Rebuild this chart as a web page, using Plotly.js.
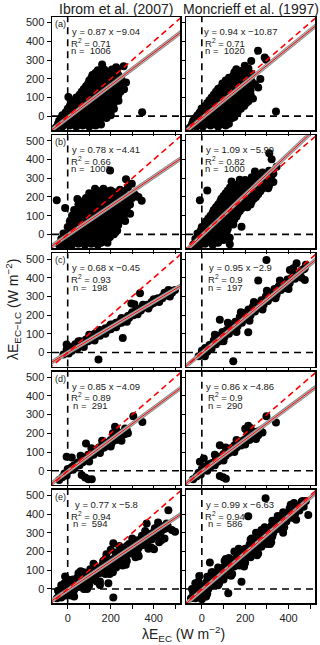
<!DOCTYPE html>
<html>
<head>
<meta charset="utf-8">
<script src="https://cdn.plot.ly/plotly-3.0.1.min.js"></script>
<style>
html,body{margin:0;padding:0;background:#fff}
#draw{width:320px;height:645px}
</style>
</head>
<body>
<div id="draw"></div>
<script>
// scatter clouds, one list of [x, y] per panel
const ibromA = [
  [-55,-60],[-25,-55],[10,-50],[40,-55],[70,-50],[100,-55],[130,-50],[155,-45],
  [-45,-40],[-10,-45],[25,-40],[55,-42],[85,-40],[120,-45],[150,-20],
  [-40,-25],[-10,-30],[20,-20],[50,-30],[80,-25],[110,-30],[140,-35],
  [-30,-10],[0,-15],[30,-10],[60,-15],[90,-10],[120,-15],[150,-10],[180,-10],
  [-25,5],[5,0],[35,10],[65,0],[95,5],[125,-5],[160,0],[200,5],
  [-10,20],[20,20],[50,15],[80,20],[110,15],[140,20],[170,15],[200,25],
  [0,40],[30,35],[60,30],[90,40],[120,30],[150,35],[180,25],[215,40],
  [10,55],[45,50],[75,45],[105,50],[135,45],[165,50],[195,40],
  [20,70],[50,65],[80,60],[110,70],[140,60],[170,65],[200,55],
  [30,85],[60,80],[95,80],[125,80],[155,75],[185,75],[215,70],
  [40,100],[70,95],[100,100],[130,90],[160,95],[190,90],[225,85],
  [55,115],[85,110],[115,115],[145,105],[175,110],[205,105],[235,110],
  [65,130],[95,125],[125,130],[155,120],[185,125],[215,120],[245,130],
  [75,145],[105,140],[135,145],[165,135],[195,140],[225,135],
  [85,160],[115,155],[145,160],[175,150],[205,155],[235,150],[262,144],
  [95,175],[125,170],[155,175],[185,165],[215,170],[240,170],
  [100,190],[130,185],[160,190],[190,180],[220,185],[250,195],
  [110,205],[140,200],[170,205],[200,195],[230,200],
  [115,220],[145,215],[175,220],[205,210],[235,220],
  [130,232],[160,235],[190,225],[220,235],
  [140,245],[170,250],[200,240],[230,250],
  [160,276],[206,249],[260,267],[225,262],
  [346,21],[236,82],[3,103],[271,180]
]
const moncA = [
  [-55,-60],[-25,-55],[5,-55],[40,-50],[75,-55],[110,-50],
  [-45,-40],[-10,-45],[25,-40],[60,-42],[95,-40],[125,-40],
  [-40,-25],[-10,-30],[20,-25],[50,-30],[85,-35],[115,-25],
  [-30,-10],[0,-15],[30,-10],[60,-15],[90,-10],[120,-15],[140,-10],
  [-20,5],[10,0],[40,10],[70,0],[100,5],[130,0],[150,-5],
  [-10,20],[20,20],[50,15],[80,20],[110,15],[140,20],[165,20],
  [-1,41],[30,35],[60,30],[90,40],[120,30],[150,35],[180,40],
  [15,55],[45,50],[75,45],[105,50],[135,45],[165,50],[195,55],
  [25,70],[55,65],[85,60],[115,70],[145,60],[175,65],[205,70],
  [35,85],[65,80],[95,80],[125,80],[155,75],[185,80],[215,80],
  [45,100],[75,95],[105,100],[135,90],[165,95],[195,90],[236,94],
  [55,115],[85,110],[115,115],[145,105],[175,110],[205,110],[225,115],
  [65,130],[95,125],[125,130],[155,120],[185,125],[215,130],
  [75,145],[105,140],[135,145],[165,135],[195,140],[225,140],
  [83,150],[115,155],[145,160],[175,150],[205,155],[260,153],
  [95,175],[125,170],[155,175],[185,165],[215,170],[245,170],
  [110,190],[140,185],[170,190],[200,180],[230,185],[270,198],
  [125,205],[155,200],[185,205],[215,195],
  [144,215],[175,220],[205,210],[230,225],
  [150,235],[180,235],[210,235],
  [159,251],[190,245],[215,255],[228,295],[198,269],
  [259,349],[290,313],[297,301],[342,25]
]
const ibromB = [
  [-40,-55],[-10,-60],[20,-55],[50,-50],[80,-55],[110,-50],[140,-55],
  [-25,-40],[5,-45],[35,-40],[65,-40],[95,-42],[125,-40],[155,-45],[185,-45],
  [-30,-25],[0,-30],[30,-20],[60,-25],[90,-30],[120,-20],[150,-25],[180,-30],
  [-15,-10],[15,-15],[45,-10],[75,-15],[105,-10],[135,-15],[165,-10],[195,-15],[215,0],
  [-20,5],[10,0],[40,10],[70,0],[100,5],[130,-5],[160,5],[197,-12],[230,20],
  [15,20],[45,20],[75,15],[105,20],[135,15],[165,20],[195,15],[220,25],
  [0,40],[30,35],[60,30],[90,40],[120,30],[150,35],[180,25],[210,40],
  [25,55],[55,50],[85,45],[115,55],[145,45],[175,50],[205,45],[235,50],
  [10,70],[40,65],[70,60],[100,70],[130,60],[160,65],[190,55],[220,65],[267,71],
  [35,85],[65,80],[95,75],[125,85],[155,75],[185,80],[215,70],[245,80],
  [20,100],[50,95],[80,90],[110,100],[140,90],[170,95],[200,85],[230,100],[260,90],[290,110],
  [45,115],[75,110],[105,115],[135,105],[165,110],[195,105],[225,115],[255,110],
  [30,130],[60,125],[90,130],[120,120],[150,125],[180,130],[210,120],[240,130],[270,125],
  [65,145],[95,140],[125,145],[155,140],[185,140],[215,135],[245,145],[275,140],
  [50,160],[80,150],[110,155],[140,160],[170,150],[200,155],[230,160],[260,150],[290,160],
  [65,175],[100,170],[130,170],[160,175],[190,170],[220,170],[250,165],[280,170],
  [45,189],[85,194],[115,185],[145,190],[175,180],[205,185],[235,190],[265,180],[300,195],
  [115,205],[150,200],[180,200],[210,200],[240,205],[270,200],
  [100,220],[135,210],[165,215],[195,225],[225,210],[255,215],[313,212],
  [145,230],[180,230],[215,225],[260,230],
  [127,244],[166,244],[200,235],[243,238],[280,250],
  [-51,182],[-12,141],[197,341],[271,295],[298,270],[329,200],[344,180]
]
const moncB = [
  [-40,-55],[-15,-60],[15,-50],[50,-55],[129,-53],
  [-25,-40],[0,-45],[30,-40],[75,-45],
  [-30,-25],[0,-30],[30,-20],[60,-25],[100,-30],
  [-15,-10],[15,-15],[45,-10],[80,-15],
  [-20,5],[10,0],[40,10],[70,0],[100,5],[129,-18],[83,-9],
  [-5,20],[25,20],[55,15],[85,20],[115,15],
  [0,40],[30,35],[60,30],[90,40],[120,30],[145,53],[183,41],
  [15,55],[45,50],[75,45],[105,55],[130,55],
  [20,70],[50,65],[80,60],[110,70],[140,80],
  [30,85],[60,80],[90,80],[120,85],[150,80],
  [40,100],[70,95],[100,100],[130,90],[160,95],
  [50,115],[80,110],[110,115],[140,105],[165,110],
  [55,130],[85,125],[115,130],[145,120],[175,125],
  [65,145],[95,140],[125,145],[155,135],[185,140],[210,145],
  [75,160],[105,155],[135,160],[165,150],[195,155],[225,160],
  [85,175],[115,170],[145,175],[175,165],[205,170],[230,175],
  [90,190],[120,185],[150,190],[180,180],[210,185],[240,190],
  [100,205],[130,200],[160,205],[190,195],[220,200],[250,200],
  [110,220],[140,215],[170,220],[200,210],[230,220],[260,215],
  [120,235],[150,230],[180,235],[210,225],[240,235],[270,230],
  [130,250],[160,245],[190,250],[220,240],[250,250],[280,245],[306,247],
  [150,265],[180,265],[210,260],[245,260],[280,265],[310,260],
  [137,283],[175,292],[206,283],[240,275],[272,283],[300,270],[330,280],
  [200,290],[250,295],[280,300],[310,295],
  [230,305],[260,310],[290,300],[320,310],
  [270,320],[300,322],[330,325],
  [245,336],[280,330],[310,340],[345,362],
  [-9,182],[25,235],[311,433],[322,401]
]
const ibromC = [
  [-20,-10],[-5,15],[5,-5],[10,30],[20,10],[30,25],[35,45],[45,20],[55,40],[60,60],
  [70,45],[80,55],[85,70],[95,60],[100,80],[110,70],[120,85],[125,100],[135,90],[145,105],
  [150,90],[160,115],[170,110],[175,130],[185,120],[195,140],[200,125],[210,150],[220,140],[225,160],
  [235,155],[245,170],[250,160],[260,180],[270,175],[280,195],[285,185],[295,205],[305,200],[315,220],
  [320,210],[330,230],[340,225],[350,240],[360,245],[370,255],[380,250],[390,270],[400,265],[410,280],
  [420,290],[430,285],[440,300],[450,310],[460,305],[468,335],[480,330],[499,335],[485,320],
  [0,0],[15,20],[40,30],[65,40],[90,65],[115,75],[140,95],[165,105],[190,130],[215,140],
  [240,165],[265,175],[290,195],[315,210],[340,235],[365,245],[390,260],[415,285],[440,290],[465,320],
  [50,60],[100,95],[150,120],[200,150],[250,185],[300,215],[350,255],[400,285],[450,320],
  [75,30],[125,65],[175,100],[225,135],[275,165],[325,205],[375,235],[425,270],[475,300],
  [336,317],[256,78],[143,-37],[-5,43],[296,262],[310,258]
]
const moncC = [
  [-15,-20],[0,10],[5,-10],[15,25],[25,5],[35,40],[45,20],[55,65],[65,45],[75,90],
  [85,60],[95,110],[105,85],[115,120],[125,100],[135,150],[145,125],[155,165],[165,140],[175,190],
  [185,160],[195,210],[205,185],[215,230],[225,200],[235,245],[245,220],[255,260],[265,240],[275,280],
  [285,255],[295,300],[305,275],[315,320],[325,295],[335,340],[345,310],[355,355],[365,335],[375,370],
  [385,345],[395,390],[405,370],[415,400],[430,395],[445,420],[460,440],[475,450],[480,470],
  [10,15],[30,25],[50,45],[70,65],[90,85],[110,100],[130,120],[150,140],[170,165],[190,180],
  [210,200],[230,225],[250,240],[270,255],[290,275],[310,300],[330,315],[350,335],[370,350],[390,370],
  [410,390],[430,410],[450,425],[470,445],
  [60,95],[120,160],[180,215],[240,270],[300,330],[360,385],[420,440],
  [100,60],[160,110],[220,170],[280,230],[340,290],[400,340],[460,400],
  [298,495],[475,388],[214,108],[145,-46],[14,-20],[83,176],[406,441],[437,477],[422,450],[260,385]
]
const ibromD = [
  [-40,-50],[-25,-35],[-15,-15],[-5,-25],[5,0],[15,15],[25,5],[30,30],[40,25],[50,45],
  [55,30],[65,55],[70,45],[80,70],[90,60],[95,85],[105,80],[115,100],[120,85],[130,110],
  [140,105],[145,125],[155,115],[165,140],[170,125],[180,150],[190,140],[200,165],[205,150],[215,180],
  [225,165],[235,190],[245,180],[255,205],[265,195],[275,215],[280,200],
  [0,10],[20,20],[45,40],[60,45],[85,65],[100,80],[125,100],[150,125],[175,140],[195,155],
  [220,175],[240,190],[260,200],[60,80],[110,120],[160,160],[210,200],[100,50],[150,95],[200,130],[250,160],
  [-5,75],[19,71],[305,292],[347,261],[81,-36],[96,-46],[112,-46],[65,-23],[85,146],
  [220,235],[225,220],[267,226],[243,199]
]
const moncD = [
  [-40,-45],[-25,-30],[-15,-10],[-5,-20],[5,5],[15,20],[25,0],[30,35],[40,20],[50,40],
  [60,30],[65,60],[75,50],[80,75],[90,65],[100,90],[110,80],[115,105],[125,95],[135,120],
  [145,110],[150,135],[160,125],[170,145],[180,135],[190,160],[200,150],[210,175],[220,165],[230,195],
  [240,180],[250,200],[260,190],[270,215],[280,205],
  [0,10],[20,20],[45,40],[60,45],[85,70],[100,80],[125,105],[150,125],[175,145],[195,165],
  [220,180],[240,195],[260,210],[60,85],[110,125],[160,165],[210,205],[100,55],[150,100],[200,140],[250,170],
  [-9,48],[9,66],[298,292],[342,258],[83,-28],[111,-43],[98,-35],[214,240],[83,137],
  [252,208],[225,228],[200,225]
]
const ibromE = [
  [-50,-50],[-40,-25],[-30,-45],[-20,-10],[-10,-35],[0,5],[10,-20],[20,20],[30,-5],[40,35],
  [50,10],[60,50],[70,25],[80,65],[90,40],[100,80],[110,55],[120,95],[130,70],[140,110],
  [150,85],[160,125],[170,100],[180,140],[190,115],[200,155],[210,130],[220,170],[230,145],[240,185],
  [250,160],[260,200],[270,175],[280,215],[290,190],[300,230],[310,205],[320,245],[330,220],[340,260],
  [350,235],[360,275],[370,250],[380,290],[390,265],[400,305],[410,280],[420,320],[430,300],[440,335],
  [450,320],[460,350],
  [5,0],[25,10],[45,25],[65,40],[85,55],[105,70],[125,90],[145,105],[165,120],[185,135],
  [205,150],[225,165],[245,180],[265,195],[285,210],[305,225],[325,240],[345,255],[365,270],[385,285],
  [405,300],[425,315],[445,330],
  [-35,-30],[-5,-10],[15,15],[35,20],[55,35],[75,50],[95,65],[115,75],[135,90],[155,100],
  [175,115],[195,130],[215,145],[235,160],[255,175],[275,190],[295,205],[315,220],[335,235],[355,250],
  [375,265],[395,280],[415,295],[435,310],[455,325],
  [-25,15],[25,50],[75,90],[125,120],[175,160],[225,190],[275,230],[325,260],[375,295],[425,330],
  [25,-25],[75,15],[125,50],[175,80],[225,115],[275,150],[325,190],[375,225],[425,250],
  [-45,-10],[-15,30],[15,-35],[45,60],[75,0],[105,105],[135,40],[165,150],[195,80],[225,195],
  [255,125],[285,240],[315,170],[345,285],[375,215],[405,325],[435,260],[465,335],
  [0,50],[30,-40],[60,95],[90,0],[120,135],[150,40],[180,185],[210,90],[240,230],[270,130],
  [300,270],[330,175],[360,310],[390,220],[420,355],[450,270],[100,20],[200,210],[-30,20],
  [468,421],[484,315],[499,306],[401,212],[212,-46],[189,30],[-12,66],[150,21],[50,84],[212,244],[367,350]
]
const moncE = [
  [-50,-50],[-40,-20],[-30,-50],[-20,-5],[-10,-35],[0,15],[10,-20],[20,35],[30,0],[40,55],
  [50,20],[60,75],[70,40],[80,95],[90,60],[100,115],[110,80],[120,135],[130,100],[140,155],
  [150,120],[160,175],[170,140],[180,195],[190,160],[200,215],[210,180],[220,235],[230,200],[240,255],
  [250,220],[260,275],[270,240],[280,295],[290,260],[300,315],[310,280],[320,335],[330,300],[340,355],
  [350,320],[360,375],[370,340],[380,395],[390,360],[400,410],[410,380],[420,425],[430,400],[440,440],
  [450,420],[460,455],[470,440],[480,470],
  [5,0],[25,20],[45,40],[65,60],[85,80],[105,100],[125,120],[145,140],[165,160],[185,180],
  [205,200],[225,220],[245,240],[265,260],[285,280],[305,300],[325,320],[345,340],[365,360],[385,380],
  [405,400],[425,415],[445,435],
  [-35,-25],[-5,-5],[15,10],[35,30],[55,50],[75,70],[95,90],[115,110],[135,130],[155,150],
  [175,170],[195,190],[215,210],[235,230],[255,250],[275,270],[295,290],[315,310],[335,330],[355,350],
  [375,370],[395,390],[415,410],[435,420],[455,445],
  [-25,25],[25,65],[75,115],[125,165],[175,210],[225,265],[275,315],[325,365],[375,410],[425,460],
  [25,-25],[75,25],[125,75],[175,125],[225,170],[275,225],[325,280],[375,320],[425,380],
  [-45,0],[-15,40],[15,-40],[45,90],[75,20],[105,150],[135,70],[165,200],[195,120],[225,250],
  [255,180],[285,310],[315,240],[345,370],[375,300],[405,430],[435,370],[465,470],
  [20,-40],[50,90],[80,30],[110,160],[140,80],[170,215],[200,140],[230,270],[260,190],[290,330],
  [320,250],[350,390],[380,330],[410,450],[100,50],[150,200],[250,300],[300,240],[-30,30],[0,-55],
  [294,485],[214,389],[491,395],[460,466],[122,-23],[183,39],[37,142],[-12,69]
]

const clouds = [ibromA, moncA, ibromB, moncB, ibromC, moncC, ibromD, moncD, ibromE, moncE]
const slopes = [0.87, 0.94, 0.78, 1.09, 0.68, 0.95, 0.85, 0.86, 0.77, 0.99]
const intercepts = [-9.04, -10.87, -4.41, -5.99, -0.45, -2.9, -4.09, -4.86, -5.8, -6.63]
const r2 = ['0.71', '0.71', '0.66', '0.82', '0.93', '0.9', '0.89', '0.9', '0.94', '0.94']
const nObs = [1006, 1020, 1002, 1000, 198, 197, 291, 290, 594, 586]
const letters = ['(a)', '(b)', '(c)', '(d)', '(e)']
const colTitles = ['Ibrom et al. (2007)', 'Moncrieff et al. (1997)']
const xTicks = [0, 200, 400]
const yTicks = [0, 100, 200, 300, 400, 500]

const W = 320, H = 645
const FONT = 'Liberation Sans, Arial, sans-serif'
const colPx = [[52, 180], [186, 315]]
const rowTop = 17, rowH = 113.2, rowGap = 5
const xRange = [-73, 522]
const yRange = [-75, 530]
const lineX = [-90, 540]

const data = []
const shapes = []
const annotations = []
const layout = {
  width: W, height: H,
  margin: {l: 0, r: 0, t: 0, b: 0},
  paper_bgcolor: '#fff', plot_bgcolor: '#fff',
  showlegend: false,
  font: {family: FONT, color: '#222'}
}

clouds.forEach((pts, i) => {
  const row = Math.floor(i / 2), col = i % 2
  const s = i === 0 ? '' : String(i + 1)
  const xa = 'x' + s, ya = 'y' + s
  const top = rowTop + row * (rowH + rowGap)
  const bot = top + rowH
  const common = {
    showline: true, mirror: true, linecolor: 'black', linewidth: 1.5,
    ticks: 'outside', ticklen: 4, tickwidth: 1, tickcolor: 'black',
    showgrid: false, zeroline: false, fixedrange: true,
    tickfont: {family: FONT, size: 11, color: '#222'},
    tickmode: 'array'
  }
  layout['xaxis' + s] = Object.assign({}, common, {
    domain: [colPx[col][0] / W, colPx[col][1] / W],
    range: xRange, anchor: ya,
    tickvals: xTicks, showticklabels: row === 4,
    minor: {ticks: 'outside', ticklen: 4, tickwidth: 1, tickcolor: 'black', tick0: 0, dtick: 100, showgrid: false}
  })
  layout['yaxis' + s] = Object.assign({}, common, {
    domain: [1 - bot / H, 1 - top / H],
    range: yRange, anchor: xa,
    tickvals: yTicks, showticklabels: col === 0
  })

  // dashed zero lines
  const dash = {color: 'black', width: 1.6, dash: '7px,5px'}
  shapes.push({type: 'line', layer: 'below', xref: xa, yref: ya + ' domain', x0: 0, x1: 0, y0: 0, y1: 1, line: dash})
  shapes.push({type: 'line', layer: 'below', xref: xa + ' domain', yref: ya, x0: 0, x1: 1, y0: 0, y1: 0, line: dash})

  data.push({
    type: 'scatter', mode: 'markers', xaxis: xa, yaxis: ya,
    x: pts.map(p => p[0]), y: pts.map(p => p[1]),
    marker: {color: 'black', size: 8}, hoverinfo: 'skip'
  })
  const fitY = lineX.map(v => slopes[i] * v + intercepts[i])
  data.push({type: 'scatter', mode: 'lines', xaxis: xa, yaxis: ya, x: lineX, y: fitY,
    line: {color: '#8a8a8a', width: 4.2}, hoverinfo: 'skip'})
  data.push({type: 'scatter', mode: 'lines', xaxis: xa, yaxis: ya, x: lineX, y: fitY,
    line: {color: '#b4b4b4', width: 2.4}, hoverinfo: 'skip'})
  data.push({type: 'scatter', mode: 'lines', xaxis: xa, yaxis: ya, x: lineX, y: fitY,
    line: {color: 'red', width: 1.0}, hoverinfo: 'skip'})
  data.push({type: 'scatter', mode: 'lines', xaxis: xa, yaxis: ya, x: lineX, y: lineX,
    line: {color: 'red', width: 1.6, dash: '6px,4px'}, hoverinfo: 'skip'})

  const b = intercepts[i]
  const eq = 'y = ' + slopes[i] + ' x ' + (b < 0 ? '\u2212' : '+') + Math.abs(b)
  const txt = {family: FONT, size: 9.5, color: '#222'}
  annotations.push({xref: xa, yref: ya, x: 178, y: 452, text: eq, showarrow: false, xanchor: 'center', font: txt})
  annotations.push({xref: xa, yref: ya, x: 108, y: 392, text: 'R<sup>2</sup> = ' + r2[i], showarrow: false, xanchor: 'center', font: txt})
  annotations.push({xref: xa, yref: ya, x: 108, y: 350, text: 'n = \u00a0' + nObs[i], showarrow: false, xanchor: 'center', font: txt})
  if (col === 0) {
    annotations.push({xref: xa + ' domain', yref: ya + ' domain', x: 0.005, y: 1.0, xanchor: 'left', yanchor: 'top',
      text: letters[row], showarrow: false, font: {family: FONT, size: 9, color: '#222'}})
  }
})

colTitles.forEach((t, c) => {
  annotations.push({xref: 'paper', yref: 'paper', x: (colPx[c][0] + colPx[c][1]) / 2 / W, y: 1 - 9 / H,
    xanchor: 'center', yanchor: 'middle', text: t, showarrow: false, font: {family: FONT, size: 14, color: '#222'}})
})
annotations.push({xref: 'paper', yref: 'paper', x: 183 / W, y: 1 - 634 / H, xanchor: 'center', yanchor: 'middle',
  text: '\u03bbE<sub>EC</sub> (W m<sup>\u22122</sup>)', showarrow: false, font: {family: FONT, size: 14, color: '#222'}})
annotations.push({xref: 'paper', yref: 'paper', x: 13 / W, y: 1 - 310 / H, xanchor: 'center', yanchor: 'middle',
  textangle: -90, text: '\u03bbE<sub>EC\u2212LC</sub> (W m<sup>\u22122</sup>)', showarrow: false,
  font: {family: FONT, size: 14, color: '#222'}})

layout.shapes = shapes
layout.annotations = annotations

Plotly.newPlot('draw', data, layout, {displayModeBar: false, staticPlot: true})
</script>
</body>
</html>
